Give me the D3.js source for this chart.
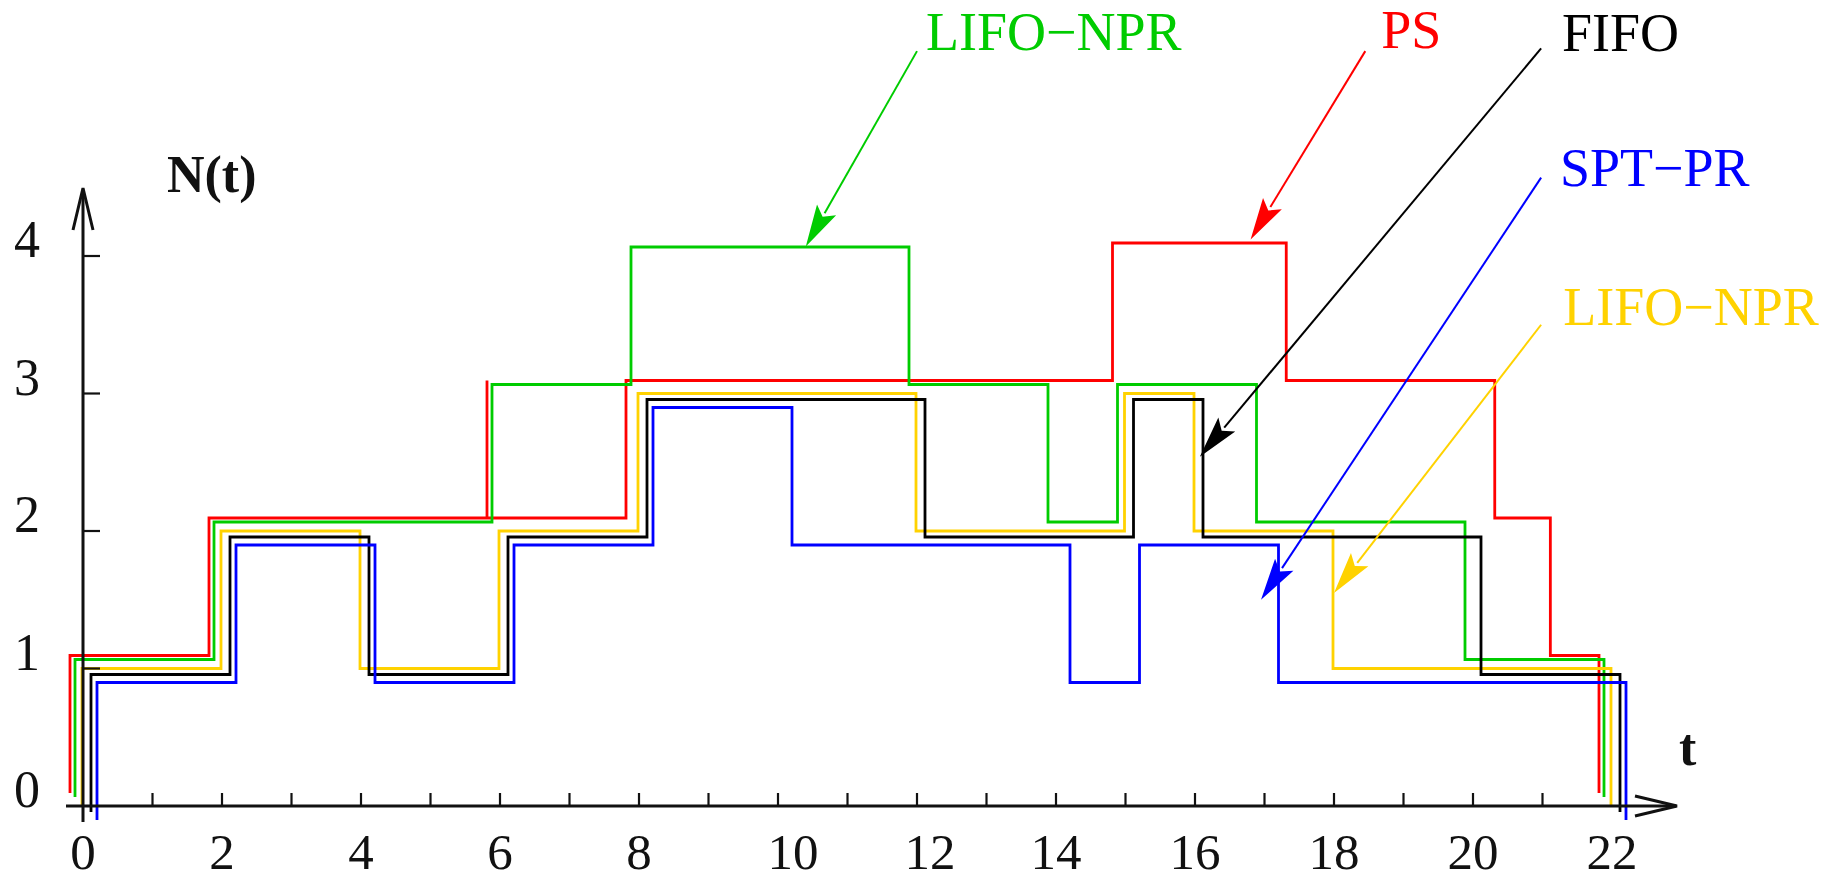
<!DOCTYPE html>
<html>
<head>
<meta charset="utf-8">
<script src="https://cdnjs.cloudflare.com/ajax/libs/d3/7.8.5/d3.min.js"></script>
<style>
body { margin: 0; background: #fff; }
text { font-family: "Liberation Serif", "Times New Roman", serif; }
</style>
</head>
<body>
<div id="chart"></div>
<script>
/* N(t) step curves: time of each change, and number in system from then on */
var psTimes     = [0, 0, 2, 6, 6, 8, 15, 17.5, 20.5, 21.3, 22];
var psLevels    = [0, 1, 2, 3, 2, 3, 4, 3, 2, 1, 0];
var lifoGTimes  = [0, 0, 2, 6, 8, 12, 14, 15, 17, 20, 22];
var lifoGLevels = [0, 1, 2, 3, 4, 3, 2, 3, 2, 1, 0];
var lifoYTimes  = [0, 0, 2, 4, 6, 8, 12, 15, 16, 18, 22];
var lifoYLevels = [0, 1, 2, 1, 2, 3, 2, 3, 2, 1, 0];
var fifoTimes   = [0, 0, 2, 4, 6, 8, 12, 15, 16, 20, 22];
var fifoLevels  = [0, 1, 2, 1, 2, 3, 2, 3, 2, 1, 0];
var sptTimes    = [0, 0, 2, 4, 6, 8, 10, 14, 15, 17, 22];
var sptLevels   = [0, 1, 2, 1, 2, 3, 2, 1, 2, 1, 0];

var xTickLabels = [0, 2, 4, 6, 8, 10, 12, 14, 16, 18, 20, 22];
var yTickLabels = [0, 1, 2, 3, 4];

/* annotation labels: text, where the text starts, where the pointer starts and ends (t, N) */
var labelNames = ["LIFO\u2212NPR", "PS", "FIFO", "SPT\u2212PR", "LIFO\u2212NPR"];
var labelText  = [[12.13, 5.5], [18.68, 5.51], [21.28, 5.49], [21.25, 4.51], [21.3, 3.5]];
var labelFrom  = [[12.0, 5.49], [18.45, 5.49], [20.98, 5.51], [20.98, 4.57], [20.98, 3.5]];
var labelTo    = [[10.4, 4.07], [16.8, 4.12], [16.07, 2.54], [16.95, 1.5], [18.0, 1.55]];

/* d3.js boilerplate */
var width = 1845, height = 882;

var svg = d3.select("#chart")
            .append("svg")
            .attr("width", width)
            .attr("height", height)
            .style("background", "#fff");

var x = d3.scaleLinear().domain([0, 22]).range([83, 83 + 22 * 69.5]);
var y = d3.scaleLinear().domain([0, 4]).range([806, 256]);

// each curve is nudged a few pixels so that they don't sit on top of each other
var series = [
  { times: psTimes,    levels: psLevels,    color: "#ff0000", dx: -13, dy: -13 },
  { times: lifoGTimes, levels: lifoGLevels, color: "#00cc00", dx: -8,  dy: -9 },
  { times: lifoYTimes, levels: lifoYLevels, color: "#ffd200", dx: -1,  dy: 0 },
  { times: fifoTimes,  levels: fifoLevels,  color: "#000000", dx: 8,   dy: 6 },
  { times: sptTimes,   levels: sptLevels,   color: "#0000ff", dx: 14,  dy: 14 }
];
var labelColors = ["#00cc00", "#ff0000", "#000000", "#0000ff", "#ffd200"];

var step = d3.line()
             .x(function (d) { return x(d[0]); })
             .y(function (d) { return y(d[1]); })
             .curve(d3.curveStepAfter);

svg.selectAll(".curve")
   .data(series)
   .enter()
   .append("path")
   .attr("class", "curve")
   .attr("transform", function (d) { return "translate(" + d.dx + "," + d.dy + ")"; })
   .attr("d", function (d) { return step(d.times.map(function (t, i) { return [t, d.levels[i]]; })); })
   .style("fill", "none")
   .style("stroke", function (d) { return d.color; })
   .style("stroke-width", 2.8)
   .style("stroke-linejoin", "miter");

/* axes drawn by hand, like the original figure */
var axis = svg.append("g").style("stroke", "#111").style("fill", "none");

axis.append("line")
    .attr("x1", 66).attr("y1", y(0))
    .attr("x2", 1676).attr("y2", y(0))
    .style("stroke-width", 3);
axis.append("path")
    .attr("d", "M1635," + (y(0) - 10) + "L1677," + y(0) + "L1635," + (y(0) + 10))
    .style("stroke-width", 3);

axis.append("line")
    .attr("x1", x(0)).attr("y1", y(0) + 16)
    .attr("x2", x(0)).attr("y2", 190)
    .style("stroke-width", 3);
axis.append("path")
    .attr("d", "M" + (x(0) - 10) + ",230L" + x(0) + ",188L" + (x(0) + 10) + ",230")
    .style("stroke-width", 3);

// minor ticks every unit of time
axis.selectAll(".xt")
    .data(d3.range(1, 22))
    .enter()
    .append("line")
    .attr("x1", function (d) { return x(d); })
    .attr("x2", function (d) { return x(d); })
    .attr("y1", y(0))
    .attr("y2", y(0) - 13)
    .style("stroke-width", 2.2);

axis.selectAll(".yt")
    .data(yTickLabels.slice(1))
    .enter()
    .append("line")
    .attr("x1", x(0))
    .attr("x2", x(0) + 17)
    .attr("y1", function (d) { return y(d); })
    .attr("y2", function (d) { return y(d); })
    .style("stroke-width", 2.2);

// the 10 and 12 labels sit a bit to the right in the original
var xLabelShift = { 10: 15, 12: 13 };

svg.selectAll(".xl")
   .data(xTickLabels)
   .enter()
   .append("text")
   .attr("x", function (d) { return x(d) + (xLabelShift[d] || 0); })
   .attr("y", 869)
   .attr("text-anchor", "middle")
   .style("font-size", "51px")
   .style("fill", "#111")
   .text(function (d) { return d; });

svg.selectAll(".yl")
   .data(yTickLabels)
   .enter()
   .append("text")
   .attr("x", 27)
   .attr("y", function (d) { return y(d) + 1; })
   .attr("text-anchor", "middle")
   .style("font-size", "52px")
   .style("fill", "#111")
   .text(function (d) { return d; });

svg.append("text")
   .attr("x", 167).attr("y", 192)
   .style("font-size", "52px")
   .style("font-weight", "bold")
   .style("fill", "#111")
   .text("N(t)");

svg.append("text")
   .attr("x", 1679).attr("y", 765)
   .style("font-size", "52px")
   .style("font-weight", "bold")
   .style("fill", "#111")
   .text("t");

/* labels with their pointers */
function arrow(x1, y1, x2, y2, color) {
  var a = Math.atan2(y2 - y1, x2 - x1), len = 42, hw = 11;
  var c = Math.cos(a), s = Math.sin(a);
  var bx = x2 - len * c, by = y2 - len * s;
  svg.append("line")
     .attr("x1", x1).attr("y1", y1)
     .attr("x2", bx + 4 * c).attr("y2", by + 4 * s)
     .style("stroke", color)
     .style("stroke-width", 2);
  svg.append("path")
     .attr("d", "M" + x2 + "," + y2 +
                "L" + (bx - hw * s) + "," + (by + hw * c) +
                "L" + (bx + 8 * c) + "," + (by + 8 * s) +
                "L" + (bx + hw * s) + "," + (by - hw * c) + "Z")
     .style("fill", color);
}

for (var i = 0; i < labelNames.length; i++) {
  arrow(x(labelFrom[i][0]), y(labelFrom[i][1]), x(labelTo[i][0]), y(labelTo[i][1]), labelColors[i]);
  svg.append("text")
     .attr("x", x(labelText[i][0]))
     .attr("y", y(labelText[i][1]))
     .style("font-size", "54px")
     .style("fill", labelColors[i])
     .text(labelNames[i]);
}
</script>
</body>
</html>
